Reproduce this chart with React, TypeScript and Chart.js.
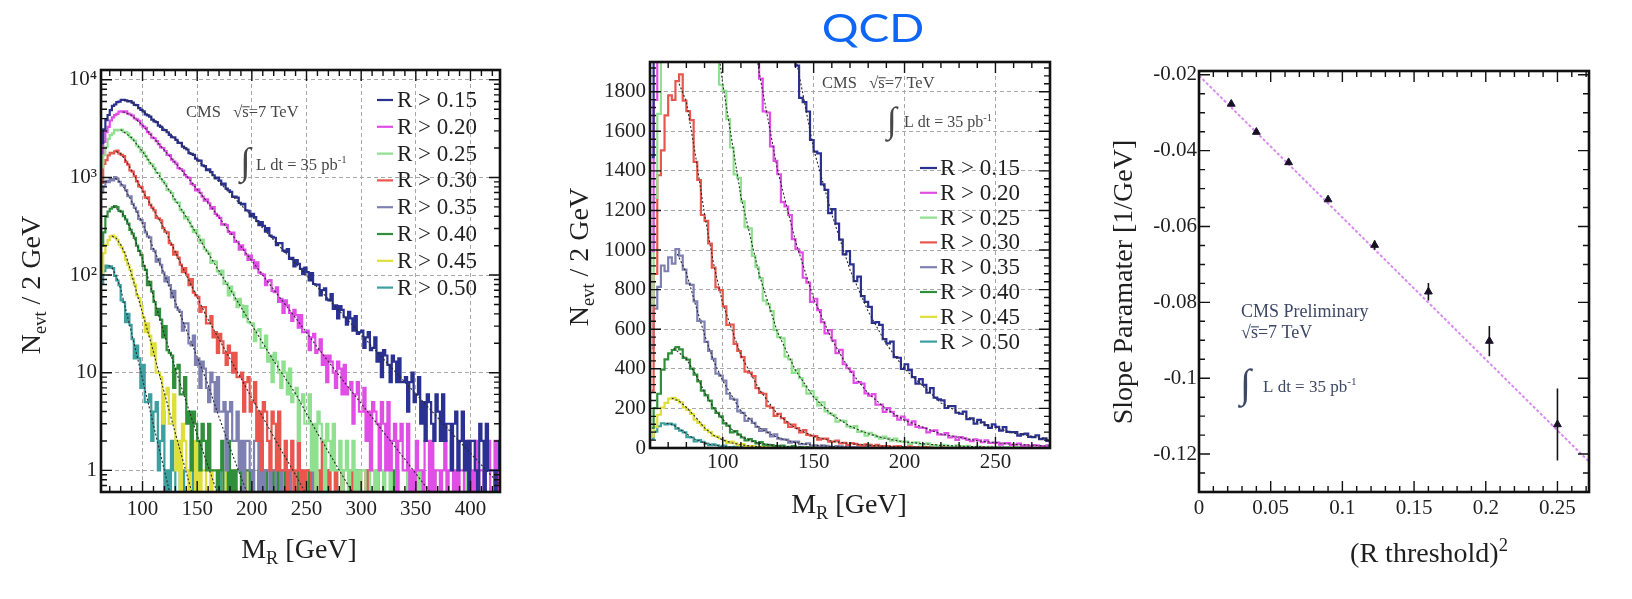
import React, { useEffect, useRef } from "react";
import { Chart, registerables } from "chart.js";

Chart.register(...registerables);

const SERIF = '"Liberation Serif", "DejaVu Serif", "Times New Roman", serif';
const INK = "#1f1f1f";
const GRID = "#a8a8a8";
const FRAME = "#111111";
const PAGE_H = 599;

// ---------------- histogram data: events per 2 GeV bin, first bin starts at 60 GeV ----------------
const BIN_START = 60;
const BIN_WIDTH = 2;
const LOG_FLOOR = 0.1; // empty bins drawn down to the bottom edge on the log panel

const seriesLabels = ["R > 0.15", "R > 0.20", "R > 0.25", "R > 0.30", "R > 0.35", "R > 0.40", "R > 0.45", "R > 0.50"];
const seriesColors = ["#2a3190", "#e04ee6", "#8fe08f", "#e8564e", "#7f80b2", "#2f8f3a", "#dede3c", "#3c9fa0"];

const hR015 = [
  1469, 2242, 3117, 3868, 4360, 4886, 5402, 5582, 5908, 5963,
  6233, 6242, 6156, 6012, 6053, 5836, 5548, 5507, 5131, 4930,
  4754, 4429, 4330, 4191, 3902, 3758, 3684, 3387, 3296, 3066,
  3054, 2901, 2734, 2579, 2570, 2429, 2257, 2265, 2072, 2000,
  1932, 1769, 1747, 1700, 1556, 1497, 1488, 1332, 1304, 1187,
  1207, 1133, 1053, 978, 995, 928, 843, 866, 767, 738,
  713, 632, 636, 622, 550, 529, 537, 459, 456, 399,
  423, 393, 358, 325, 348, 319, 279, 302, 254, 246,
  241, 202, 212, 212, 178, 173, 184, 146, 150, 123,
  142, 130, 116, 102, 119, 107, 88, 105, 81, 80,
  80, 62, 70, 73, 56, 55, 64, 45, 49, 36,
  48, 44, 37, 31, 42, 36, 27, 38, 25, 26,
  27, 18, 23, 26, 17, 18, 23, 13, 16, 9,
  17, 15, 12, 8, 15, 13, 8, 14, 8, 8,
  9, 4, 8, 10, 5, 6, 9, 3, 5, 2,
  6, 5, 3, 2, 6, 4, 2, 6, 2, 3,
  3, 1, 3, 4, 1, 2, 4, 1, 2, 0,
  2, 2, 1, 0, 3, 2, 0, 3, 1, 1,
  1, 0, 1, 2, 0,
];
const hR020 = [
  994, 1758, 2306, 2905, 3293, 3829, 4126, 4340, 4473, 4732,
  4741, 4652, 4749, 4513, 4410, 4293, 4013, 3929, 3787, 3494,
  3318, 3218, 2911, 2795, 2553, 2520, 2349, 2186, 2025, 2003,
  1866, 1701, 1695, 1524, 1450, 1383, 1242, 1220, 1177, 1055,
  1004, 988, 860, 835, 738, 754, 697, 636, 579, 596,
  544, 479, 496, 423, 403, 386, 329, 333, 325, 276,
  264, 272, 219, 219, 182, 201, 182, 162, 143, 158,
  142, 118, 135, 106, 103, 101, 79, 87, 89, 69,
  67, 75, 53, 57, 41, 55, 49, 41, 34, 44,
  39, 29, 39, 26, 26, 27, 17, 23, 25, 16,
  17, 22, 12, 15, 8, 15, 13, 10, 7, 13,
  11, 6, 12, 6, 7, 8, 3, 6, 8, 4,
  4, 7, 2, 4, 1, 5, 4, 3, 1, 5,
  3, 1, 5, 1, 2, 3, 0, 2, 3, 1,
  1, 3, 0, 1, 0, 2, 1, 1, 0, 2,
  2, 0, 2, 0, 1, 1, 0, 1, 2, 0,
  1, 2, 0, 1, 0, 1, 1, 0, 0, 2,
  1, 0, 2, 0, 1, 1, 0, 1, 2, 0,
  0, 2, 0, 1, 0,
];
const hR025 = [
  721, 1264, 1688, 2054, 2479, 2711, 2832, 3077, 3038, 3080,
  3088, 2924, 2906, 2818, 2589, 2460, 2387, 2128, 2035, 1835,
  1804, 1661, 1518, 1382, 1364, 1246, 1116, 1110, 970, 913,
  858, 745, 726, 691, 597, 560, 554, 462, 447, 380,
  393, 353, 313, 275, 288, 255, 215, 231, 185, 175,
  167, 133, 139, 137, 109, 103, 111, 81, 83, 62,
  76, 66, 56, 47, 57, 49, 37, 48, 33, 32,
  32, 21, 27, 28, 18, 18, 24, 13, 15, 8,
  16, 13, 10, 7, 13, 10, 6, 11, 5, 6,
  7, 2, 5, 6, 3, 3, 6, 1, 3, 0,
  4, 3, 2, 0, 3, 2, 1, 3, 1, 1,
  2, 0, 1, 2, 0, 1, 2, 0, 1, 0,
  1, 1, 0, 0, 1, 1, 0, 1, 0, 0,
  1, 0, 0, 1, 0, 0, 1, 0, 0, 0,
  0, 1, 0, 0, 0, 0, 1, 0, 0, 0,
  0, 0, 0, 1, 0, 0, 0, 0, 0, 0,
  0, 0, 0, 0, 0, 0, 0, 0, 1, 0,
  0, 0, 0, 0, 0, 0, 0, 0, 0, 0,
  0, 0, 0, 0, 0,
];
const hR030 = [
  290, 879, 1378, 1504, 1680, 1781, 1759, 1853, 1887, 1755,
  1702, 1656, 1445, 1354, 1177, 1147, 1033, 911, 811, 798,
  716, 622, 624, 526, 490, 459, 386, 381, 363, 302,
  278, 274, 212, 204, 162, 173, 151, 128, 107, 118,
  101, 79, 91, 66, 62, 60, 42, 47, 47, 32,
  32, 38, 23, 26, 16, 25, 21, 16, 12, 19,
  16, 10, 16, 9, 9, 10, 4, 8, 9, 4,
  5, 8, 2, 4, 1, 5, 4, 2, 1, 4,
  3, 1, 4, 1, 1, 2, 0, 1, 2, 0,
  1, 2, 0, 1, 0, 1, 1, 0, 0, 1,
  1, 0, 2, 0, 0, 1, 0, 0, 1, 0,
  0, 1, 0, 0, 0, 1, 0, 0, 0, 1,
  0, 0, 1, 0, 0, 0, 0, 1, 0, 0,
  0, 0, 0, 0, 0, 0, 1, 0, 0, 0,
  0, 0, 0, 0, 0, 0, 0, 0, 0, 0,
  0, 0, 0, 1, 0, 0, 0, 0, 0, 0,
  0, 0, 0, 0, 0, 0, 0, 0, 0, 0,
  0, 0, 0, 0, 0, 0, 0, 0, 0, 0,
  0, 0, 0, 0, 0,
];
const hR035 = [
  504, 704, 814, 922, 893, 963, 931, 1005, 972, 901,
  831, 824, 741, 642, 639, 536, 490, 450, 376, 366,
  340, 274, 249, 244, 185, 177, 137, 147, 127, 106,
  86, 95, 79, 59, 69, 47, 44, 42, 27, 32,
  32, 20, 19, 24, 12, 14, 7, 13, 11, 7,
  5, 10, 8, 4, 9, 4, 4, 5, 1, 4,
  5, 2, 2, 4, 1, 2, 0, 2, 2, 1,
  0, 2, 2, 0, 2, 0, 1, 1, 0, 1,
  1, 0, 0, 1, 0, 0, 0, 1, 0, 0,
  0, 0, 1, 0, 0, 0, 0, 0, 1, 0,
  0, 0, 0, 0, 1, 0, 0, 0, 0, 0,
  0, 0, 0, 0, 0, 0, 0, 0, 0, 0,
  0, 0, 0, 1, 0, 0, 0, 0, 0, 0,
  0, 0, 0, 0, 0, 0, 0, 0, 0, 0,
  0, 0, 0, 0, 0, 0, 0, 0, 0, 0,
  0, 0, 0, 0, 0, 0, 0, 0, 0, 0,
  0, 0, 0, 0, 0, 0, 0, 0, 0, 0,
  0, 0, 0, 0, 0, 0, 0, 0, 0, 0,
  0, 0, 0, 0, 0,
];
const hR040 = [
  101, 201, 274, 396, 448, 478, 495, 510, 498, 455,
  446, 401, 371, 337, 290, 266, 240, 200, 177, 160,
  124, 113, 79, 85, 68, 53, 39, 45, 35, 23,
  30, 17, 16, 15, 7, 11, 12, 6, 6, 9,
  3, 4, 1, 4, 3, 2, 1, 3, 2, 1,
  3, 1, 1, 1, 0, 1, 2, 0, 0, 2,
  0, 1, 0, 1, 1, 0, 0, 1, 1, 0,
  1, 0, 0, 1, 0, 0, 1, 0, 0, 1,
  0, 0, 1, 0, 0, 1, 0, 0, 0, 0,
  0, 1, 0, 0, 0, 0, 1, 0, 0, 0,
  0, 0, 0, 1, 0, 0, 0, 0, 1, 0,
  0, 0, 0, 0, 0, 0, 0, 1, 0, 0,
  0, 0, 0, 0, 0, 0, 0, 0, 0, 0,
  0, 0, 0, 0, 1, 0, 0, 0, 0, 0,
  0, 0, 0, 0, 0, 0, 0, 0, 0, 0,
  0, 0, 0, 0, 0, 0, 0, 0, 0, 0,
  0, 0, 0, 0, 0, 0, 0, 0, 0, 0,
  0, 0, 0, 0, 0, 0, 0, 0, 0, 0,
  0, 0, 0, 0, 0,
];
const hR045 = [
  59, 105, 168, 204, 228, 249, 253, 243, 230, 205,
  192, 172, 143, 127, 113, 92, 80, 62, 58, 48,
  37, 26, 32, 24, 15, 20, 10, 10, 9, 3,
  6, 7, 3, 3, 6, 1, 2, 0, 3, 2,
  1, 0, 2, 2, 0, 2, 0, 1, 1, 0,
  0, 1, 0, 0, 1, 0, 0, 0, 1, 0,
  0, 0, 1, 0, 0, 0, 0, 1, 0, 0,
  0, 0, 0, 0, 0, 0, 0, 0, 0, 1,
  0, 0, 0, 0, 0, 1, 0, 0, 0, 0,
  0, 0, 0, 0, 0, 0, 0, 0, 0, 0,
  0, 0, 0, 0, 0, 0, 0, 0, 0, 0,
  0, 0, 0, 0, 0, 0, 0, 0, 0, 0,
  0, 0, 0, 0, 0, 0, 0, 0, 0, 0,
  0, 0, 0, 0, 0, 0, 0, 0, 0, 0,
  0, 0, 0, 0, 0, 0, 0, 0, 0, 0,
  0, 0, 0, 0, 0, 0, 0, 0, 0, 0,
  0, 0, 0, 0, 0, 0, 0, 0, 0, 0,
  0, 0, 0, 0, 0, 0, 0, 0, 0, 0,
  0, 0, 0, 0, 0,
];
const hR050 = [
  45, 83, 110, 125, 119, 123, 118, 98, 88, 79,
  55, 53, 33, 40, 31, 22, 14, 19, 14, 7,
  12, 5, 5, 6, 2, 4, 5, 1, 2, 4,
  0, 1, 0, 2, 1, 0, 0, 1, 1, 0,
  0, 0, 0, 1, 0, 0, 0, 0, 0, 0,
  0, 0, 0, 0, 0, 1, 0, 0, 0, 0,
  0, 0, 0, 0, 0, 0, 0, 0, 0, 0,
  0, 0, 0, 0, 0, 0, 0, 0, 0, 0,
  0, 0, 0, 0, 0, 0, 0, 0, 0, 0,
  0, 0, 0, 0, 0, 0, 0, 0, 0, 0,
  0, 0, 0, 0, 0, 0, 0, 0, 0, 0,
  0, 0, 0, 0, 0, 0, 0, 0, 0, 0,
  0, 0, 0, 0, 0, 0, 0, 0, 0, 0,
  0, 0, 0, 0, 0, 0, 0, 0, 0, 0,
  0, 0, 0, 0, 0, 0, 0, 0, 0, 0,
  0, 0, 0, 0, 0, 0, 0, 0, 0, 0,
  0, 0, 0, 0, 0, 0, 0, 0, 0, 0,
  0, 0, 0, 0, 0, 0, 0, 0, 0, 0,
  0, 0, 0, 0, 0,
];

// exponential fit curves [M_R, N] drawn over each histogram
const fitR015 = [[83, 6230], [90, 5900], [100, 4850], [110, 3950], [120, 3150], [130, 2500], [140, 1980], [150, 1510], [160, 1180], [170, 900], [180, 690], [190, 525], [200, 400], [220, 228], [240, 131], [260, 75], [280, 43], [300, 24.5], [320, 14], [340, 8], [360, 4.6], [380, 2.6], [400, 1.5], [420, 0.86], [430, 0.65]];
const fitR020 = [[82, 4710], [90, 4340], [100, 3430], [110, 2550], [120, 1900], [130, 1410], [140, 1045], [150, 755], [160, 548], [170, 390], [180, 276], [190, 196], [200, 140], [220, 71], [240, 36.5], [260, 18.2], [280, 9.3], [300, 4.85], [320, 2.5], [340, 1.3], [360, 0.66], [370, 0.48]];
const fitR025 = [[80, 3080], [90, 2550], [100, 1840], [110, 1270], [120, 878], [130, 588], [140, 393], [150, 257], [160, 168], [170, 110], [180, 72], [190, 47], [200, 30.8], [220, 13.2], [240, 6.1], [260, 2.4], [280, 1.0], [290, 0.65], [300, 0.42]];
const fitR030 = [[76, 1840], [80, 1750], [85, 1480], [90, 1180], [95, 930], [100, 730], [110, 468], [120, 297], [130, 172], [140, 100], [150, 59], [160, 35], [170, 22], [180, 13.9], [190, 8.8], [200, 5.5], [210, 3.5], [220, 2.2], [230, 1.4], [240, 0.9], [250, 0.56], [260, 0.36]];
const fitR035 = [[75, 980], [80, 885], [85, 725], [90, 572], [95, 440], [100, 340], [110, 187], [120, 102], [130, 53], [140, 27.5], [150, 14.5], [160, 7.5], [170, 3.5], [180, 1.7], [190, 0.85], [200, 0.45]];
const fitR040 = [[73, 505], [80, 450], [85, 375], [90, 282], [95, 204], [100, 145], [105, 94], [110, 60], [115, 38], [120, 24.5], [130, 11], [140, 5], [150, 2.3], [160, 1.1], [170, 0.52], [175, 0.36]];
const fitR045 = [[72, 251], [76, 238], [80, 205], [85, 157], [90, 102], [95, 64], [100, 41], [105, 26], [110, 16.3], [115, 10], [120, 6.2], [130, 2.4], [140, 0.95], [145, 0.6], [150, 0.38]];
const fitR050 = [[69, 125], [72, 120], [76, 98], [80, 72], [85, 43], [90, 25.5], [95, 14.8], [100, 8.6], [105, 5.0], [110, 2.9], [115, 1.7], [120, 1.0], [125, 0.58], [130, 0.34]];

const histograms = [hR015, hR020, hR025, hR030, hR035, hR040, hR045, hR050];
const fits = [fitR015, fitR020, fitR025, fitR030, fitR035, fitR040, fitR045, fitR050];

// ---------------- tick values / labels ----------------
const logYTicks = [1, 10, 100, 1000, 10000];
const logYLabels = ["1", "10", "10²", "10³", "10⁴"];
const mrTicksWide = [100, 150, 200, 250, 300, 350, 400];
const mrLabelsWide = ["100", "150", "200", "250", "300", "350", "400"];
const mrTicksNarrow = [100, 150, 200, 250];
const mrLabelsNarrow = ["100", "150", "200", "250"];
const linYTicks = [0, 200, 400, 600, 800, 1000, 1200, 1400, 1600, 1800];
const linYLabels = ["0", "200", "400", "600", "800", "1000", "1200", "1400", "1600", "1800"];

// ---------------- slope-parameter panel ----------------
const rThresholdSq = [0.0225, 0.04, 0.0625, 0.09, 0.1225, 0.16, 0.2025, 0.25];
const slopeValues = [-0.0277, -0.0351, -0.0431, -0.0529, -0.0649, -0.0772, -0.0902, -0.1122];
const slopeErrors = [0.0004, 0.0005, 0.0005, 0.0006, 0.0012, 0.0023, 0.004, 0.0095];
const slopeFitX = [0, 0.272];
const slopeFitY = [-0.0202, -0.122];
const r2Ticks = [0, 0.05, 0.1, 0.15, 0.2, 0.25];
const r2Labels = ["0", "0.05", "0.1", "0.15", "0.2", "0.25"];
const slopeYTicks = [-0.12, -0.1, -0.08, -0.06, -0.04, -0.02];
const slopeYLabels = ["-0.12", "-0.1", "-0.08", "-0.06", "-0.04", "-0.02"];

// ---------------- layout (canvas coordinates) ----------------
type Frame = { width: number; left: number; right: number; top: number; bottom: number; xPad: number; yPad: number };
const FRAME_LOG: Frame = { width: 540, left: 101, right: 500, top: 70, bottom: 492, xPad: 5, yPad: 4 };
const FRAME_LIN: Frame = { width: 540, left: 110, right: 510, top: 62, bottom: 448, xPad: 2, yPad: 4 };
const FRAME_SLOPE: Frame = { width: 552, left: 119, right: 509, top: 71, bottom: 492, xPad: 4, yPad: 2 };
const TICK_FONT = { family: SERIF, size: 21 };

type Part = { t: string; sub?: boolean; sup?: boolean; over?: boolean };
type TextItem = { parts: Part[]; size: number; x: number; y: number; color?: string; center?: boolean; rotate?: boolean };
type Integral = { x: number; y: number; size: number; color: string };
type LegendBox = { x0: number; x1: number; tx: number; y0: number; dy: number; size: number };
type Decor = {
  xMajor: number[]; xMinor: number[]; yMajor: number[]; yMinor: number[];
  texts: TextItem[]; integrals: Integral[]; legend?: LegendBox;
};

function seq(from: number, to: number, step: number): number[] {
  const out: number[] = [];
  const n = Math.round((to - from) / step);
  for (let i = 0; i <= n; i++) out.push(Math.round((from + i * step) * 1e6) / 1e6);
  return out;
}
function logMinor(min: number, max: number): number[] {
  const out: number[] = [];
  for (let e = -1; e <= 4; e++) for (let m = 2; m <= 9; m++) {
    const v = m * Math.pow(10, e);
    if (v > min && v < max) out.push(v);
  }
  return out;
}

function drawParts(ctx: CanvasRenderingContext2D, it: TextItem) {
  const small = it.size * 0.66;
  const sizes = it.parts.map((p) => (p.sub || p.sup ? small : it.size));
  const widths = it.parts.map((p, i) => {
    ctx.font = `${sizes[i]}px ${SERIF}`;
    return ctx.measureText(p.t).width;
  });
  const total = widths.reduce((a, b) => a + b, 0);
  ctx.save();
  ctx.translate(it.x, it.y);
  if (it.rotate) ctx.rotate(-Math.PI / 2);
  ctx.fillStyle = it.color || INK;
  ctx.strokeStyle = it.color || INK;
  ctx.textAlign = "left";
  ctx.textBaseline = "alphabetic";
  let cx = it.center ? -total / 2 : 0;
  it.parts.forEach((p, i) => {
    ctx.font = `${sizes[i]}px ${SERIF}`;
    const dy = p.sub ? it.size * 0.2 : p.sup ? -it.size * 0.4 : 0;
    ctx.fillText(p.t, cx, dy);
    if (p.over) {
      ctx.lineWidth = Math.max(0.8, it.size / 16);
      ctx.beginPath();
      ctx.moveTo(cx, dy - it.size * 0.62);
      ctx.lineTo(cx + widths[i] + 1, dy - it.size * 0.62);
      ctx.stroke();
    }
    cx += widths[i];
  });
  ctx.restore();
}

function decorPlugin(d: Decor) {
  return {
    id: "decor",
    afterDraw(chart: any) {
      const ctx = chart.ctx as CanvasRenderingContext2D;
      const a = chart.chartArea;
      const xs = chart.scales.x;
      const ys = chart.scales.y;
      ctx.save();
      ctx.setLineDash([]);
      ctx.strokeStyle = FRAME;
      ctx.lineWidth = 1.4;
      ctx.beginPath();
      const tickX = (v: number, len: number) => {
        const p = xs.getPixelForValue(v);
        if (p <= a.left + 1 || p >= a.right - 1) return;
        ctx.moveTo(p, a.bottom); ctx.lineTo(p, a.bottom - len);
        ctx.moveTo(p, a.top); ctx.lineTo(p, a.top + len);
      };
      const tickY = (v: number, len: number) => {
        const p = ys.getPixelForValue(v);
        if (p <= a.top + 1 || p >= a.bottom - 1) return;
        ctx.moveTo(a.left, p); ctx.lineTo(a.left + len, p);
        ctx.moveTo(a.right, p); ctx.lineTo(a.right - len, p);
      };
      d.xMajor.forEach((v) => tickX(v, 11));
      d.xMinor.forEach((v) => tickX(v, 6));
      d.yMajor.forEach((v) => tickY(v, 11));
      d.yMinor.forEach((v) => tickY(v, 6));
      ctx.stroke();
      ctx.lineWidth = 2.6;
      ctx.strokeRect(a.left, a.top, a.right - a.left, a.bottom - a.top);

      if (d.legend) {
        const L = d.legend;
        ctx.font = `${L.size}px ${SERIF}`;
        ctx.textAlign = "left";
        ctx.textBaseline = "middle";
        chart.data.datasets.slice(0, seriesLabels.length).forEach((ds: any, i: number) => {
          const y = L.y0 + i * L.dy;
          ctx.strokeStyle = ds.borderColor;
          ctx.lineWidth = 2.2;
          ctx.beginPath();
          ctx.moveTo(L.x0, y);
          ctx.lineTo(L.x1, y);
          ctx.stroke();
          ctx.fillStyle = INK;
          ctx.fillText(ds.label, L.tx, y + 1);
        });
      }
      d.integrals.forEach((g) => {
        ctx.font = `${g.size}px ${SERIF}`;
        ctx.fillStyle = g.color;
        ctx.textAlign = "left";
        ctx.textBaseline = "alphabetic";
        ctx.fillText("∫", g.x, g.y);
      });
      d.texts.forEach((t) => drawParts(ctx, t));
      ctx.restore();
    },
  };
}

const errorBarPlugin = {
  id: "errorBars",
  afterDatasetsDraw(chart: any) {
    const ctx = chart.ctx as CanvasRenderingContext2D;
    const xs = chart.scales.x;
    const ys = chart.scales.y;
    ctx.save();
    ctx.strokeStyle = "#141414";
    ctx.lineWidth = 1.6;
    ctx.beginPath();
    rThresholdSq.forEach((x, i) => {
      const px = xs.getPixelForValue(x);
      ctx.moveTo(px, ys.getPixelForValue(slopeValues[i] - slopeErrors[i]));
      ctx.lineTo(px, ys.getPixelForValue(slopeValues[i] + slopeErrors[i]));
    });
    ctx.stroke();
    ctx.restore();
  },
};

function baseOptions(f: Frame) {
  return {
    animation: false,
    responsive: false,
    events: [],
    layout: { padding: { left: 0, top: f.top, right: f.width - f.right, bottom: 0 } },
    plugins: { legend: { display: false }, tooltip: { enabled: false }, title: { display: false } },
  };
}

function axisX(f: Frame, min: number, max: number, ticks: number[], labels: string[], grid: boolean) {
  return {
    type: "linear",
    min,
    max,
    afterBuildTicks: (s: any) => { s.ticks = ticks.map((v) => ({ value: v })); },
    afterFit: (s: any) => { s.height = PAGE_H - f.bottom; },
    ticks: { autoSkip: false, maxRotation: 0, padding: f.xPad, color: INK, font: TICK_FONT, callback: (_v: any, i: number) => labels[i] },
    grid: { display: grid, color: GRID, lineWidth: 1, drawTicks: false },
    border: { display: false, dash: [4, 3] },
  };
}

function axisY(f: Frame, type: string, min: number, max: number, ticks: number[], labels: string[], grid: boolean) {
  return {
    type,
    min,
    max,
    afterBuildTicks: (s: any) => { s.ticks = ticks.map((v) => ({ value: v })); },
    afterFit: (s: any) => { s.width = f.left; },
    ticks: { autoSkip: false, padding: f.yPad, color: INK, font: TICK_FONT, callback: (_v: any, i: number) => labels[i] },
    grid: { display: grid, color: GRID, lineWidth: 1, drawTicks: false },
    border: { display: false, dash: [4, 3] },
  };
}

function histDatasets(log: boolean) {
  const centers = hR015.map((_, j) => BIN_START + BIN_WIDTH * (j + 0.5));
  const hist = histograms.map((h, i) => ({
    label: seriesLabels[i],
    data: h.map((v, j) => ({ x: centers[j], y: log && v <= 0 ? LOG_FLOOR : v })),
    borderColor: seriesColors[i],
    borderWidth: 2.2,
    pointRadius: 0,
    stepped: "middle",
    fill: false,
    order: 10 + i,
  }));
  const fitSets = fits.map((f, i) => ({
    label: "fit " + seriesLabels[i],
    data: f.map(([x, y]) => ({ x, y })),
    borderColor: "#2a2a2a",
    borderWidth: 1.1,
    borderDash: [2, 2],
    pointRadius: 0,
    fill: false,
    order: 1,
  }));
  return [...hist, ...fitSets];
}

const nevtTitle: Part[] = [{ t: "N" }, { t: "evt", sub: true }, { t: " / 2 GeV" }];
const mrTitle: Part[] = [{ t: "M" }, { t: "R", sub: true }, { t: " [GeV]" }];
const cmsParts: Part[] = [{ t: "CMS   " }, { t: "√" }, { t: "s", over: true }, { t: "=7 TeV" }];
const lumiParts: Part[] = [{ t: "L dt = 35 pb" }, { t: "-1", sup: true }];
const NOTE = "#474747";
const NOTE3 = "#3d4866";

function logConfig() {
  const f = FRAME_LOG;
  return {
    type: "line",
    data: { datasets: histDatasets(true) },
    options: {
      ...baseOptions(f),
      scales: {
        x: axisX(f, 62, 427, mrTicksWide, mrLabelsWide, true),
        y: axisY(f, "logarithmic", 0.63, 12600, logYTicks, logYLabels, true),
      },
    },
    plugins: [
      decorPlugin({
        xMajor: mrTicksWide, xMinor: seq(70, 420, 10), yMajor: logYTicks, yMinor: logMinor(0.63, 12600),
        legend: { x0: 377, x1: 393, tx: 397, y0: 100, dy: 26.8, size: 23 },
        integrals: [{ x: 240, y: 174, size: 38, color: NOTE }],
        texts: [
          { parts: cmsParts, size: 16.5, x: 186, y: 117, color: NOTE },
          { parts: lumiParts, size: 16.5, x: 256, y: 170, color: NOTE },
          { parts: mrTitle, size: 28, x: 299, y: 558, center: true },
          { parts: nevtTitle, size: 28, x: 40, y: 285, center: true, rotate: true },
        ],
      }),
    ],
  };
}

function linConfig() {
  const f = FRAME_LIN;
  return {
    type: "line",
    data: { datasets: histDatasets(false) },
    options: {
      ...baseOptions(f),
      scales: {
        x: axisX(f, 60, 280, mrTicksNarrow, mrLabelsNarrow, true),
        y: axisY(f, "linear", 0, 1950, linYTicks, linYLabels, true),
      },
    },
    plugins: [
      decorPlugin({
        xMajor: mrTicksNarrow, xMinor: seq(60, 280, 10), yMajor: linYTicks, yMinor: seq(40, 1920, 40),
        legend: { x0: 380, x1: 397, tx: 400, y0: 168, dy: 24.8, size: 23 },
        integrals: [{ x: 347, y: 132, size: 36, color: NOTE }],
        texts: [
          { parts: cmsParts, size: 16.5, x: 282, y: 88, color: NOTE },
          { parts: lumiParts, size: 16, x: 364, y: 127, color: NOTE },
          { parts: mrTitle, size: 28, x: 309, y: 513, center: true },
          { parts: nevtTitle, size: 28, x: 48, y: 257, center: true, rotate: true },
        ],
      }),
    ],
  };
}

function slopeConfig() {
  const f = FRAME_SLOPE;
  return {
    type: "scatter",
    data: {
      datasets: [
        {
          type: "line",
          label: "linear fit",
          data: slopeFitX.map((x, i) => ({ x, y: slopeFitY[i] })),
          borderColor: "#d88cf3",
          borderWidth: 2,
          borderDash: [3, 2],
          pointRadius: 0,
          showLine: true,
          fill: false,
          order: 1,
        },
        {
          label: "slope",
          data: rThresholdSq.map((x, i) => ({ x, y: slopeValues[i] })),
          pointStyle: "triangle",
          pointRadius: 4.5,
          backgroundColor: "#1b1030",
          borderColor: "#1b1030",
          borderWidth: 1,
          order: 0,
        },
      ],
    },
    options: {
      ...baseOptions(f),
      scales: {
        x: axisX(f, 0, 0.272, r2Ticks, r2Labels, false),
        y: axisY(f, "linear", -0.13, -0.019, slopeYTicks, slopeYLabels, false),
      },
    },
    plugins: [
      errorBarPlugin,
      decorPlugin({
        xMajor: r2Ticks, xMinor: seq(0.01, 0.27, 0.01), yMajor: slopeYTicks, yMinor: seq(-0.125, -0.02, 0.005),
        integrals: [{ x: 160, y: 397, size: 40, color: NOTE3 }],
        texts: [
          { parts: [{ t: "CMS Preliminary" }], size: 18, x: 161, y: 317, color: NOTE3 },
          { parts: [{ t: "√" }, { t: "s", over: true }, { t: "=7 TeV" }], size: 18, x: 161, y: 338, color: NOTE3 },
          { parts: lumiParts, size: 17, x: 183, y: 392, color: NOTE3 },
          { parts: [{ t: "(R threshold)" }, { t: "2", sup: true }], size: 28, x: 349, y: 562, center: true },
          { parts: [{ t: "Slope Paramater [1/GeV]" }], size: 28, x: 52, y: 282, center: true, rotate: true },
        ],
      }),
    ],
  };
}

function ChartCanvas({ left, width, make }: { left: number; width: number; make: () => any }) {
  const ref = useRef<HTMLCanvasElement>(null);
  useEffect(() => {
    if (!ref.current) return;
    const chart = new Chart(ref.current, make());
    return () => chart.destroy();
  }, []);
  return (
    <canvas
      ref={ref}
      width={width}
      height={PAGE_H}
      style={{ position: "absolute", left, top: 0, width, height: PAGE_H }}
    />
  );
}

export default function App() {
  return (
    <div style={{ position: "fixed", left: 0, top: 0, width: 1632, height: PAGE_H, background: "#ffffff", overflow: "hidden" }}>
      <ChartCanvas left={0} width={540} make={logConfig} />
      <ChartCanvas left={540} width={540} make={linConfig} />
      <ChartCanvas left={1080} width={552} make={slopeConfig} />
      <div
        style={{
          position: "absolute",
          left: 873,
          top: 8,
          transform: "translateX(-50%) scaleX(1.18)",
          fontFamily: "Lato, 'Open Sans', sans-serif",
          fontSize: 39,
          lineHeight: "39px",
          color: "#0d66f5",
          whiteSpace: "nowrap",
        }}
      >
        QCD
      </div>
    </div>
  );
}
